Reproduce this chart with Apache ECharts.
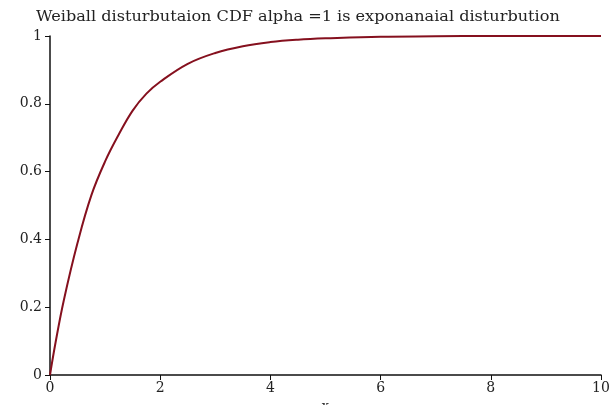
<!DOCTYPE html>
<html>
<head>
<meta charset="utf-8">
<script src="https://cdn.jsdelivr.net/npm/echarts@6/dist/echarts.min.js"></script>
<style>
  html, body { margin: 0; padding: 0; background: #fff; }
  #chart { width: 611px; height: 405px; }
</style>
</head>
<body>
<div id="chart"></div>
<script>
// Weibull CDF with shape alpha = 1 (sampled curve points)
var xValues = [0, 0.1, 0.25, 0.5, 0.75, 1, 1.25, 1.5, 1.75, 2, 2.5, 3, 3.5, 4, 4.5, 5, 6, 7, 8, 9, 10];
var cdfValues = [0, 0.095, 0.22, 0.39, 0.53, 0.63, 0.71, 0.78, 0.83, 0.865, 0.918, 0.95, 0.97, 0.982, 0.989, 0.993, 0.998, 0.999, 1, 1, 1];
var titleText = 'Weiball disturbutaion CDF alpha =1 is exponanaial disturbution';
var xName = 'x';

var serif = '"DejaVu Serif", "Liberation Serif", serif';
var chart = echarts.init(document.getElementById('chart'));
chart.setOption({
  animation: false,
  // wide, slightly stretched heading drawn as a graphic text
  graphic: [{
    type: 'text',
    x: 36,
    y: 10,
    scaleX: 1.15,
    style: {
      text: titleText,
      font: '14px ' + serif,
      fill: '#222',
      textAlign: 'left',
      textVerticalAlign: 'top'
    }
  }],
  grid: { left: 50, right: 10, top: 36, bottom: 30, containLabel: false, outerBoundsMode: 'none' },
  xAxis: {
    type: 'value',
    min: 0, max: 10, interval: 2,
    name: xName,
    nameLocation: 'middle',
    nameGap: 24,
    nameTextStyle: { fontFamily: serif, fontSize: 13, color: '#333' },
    axisLine: { show: true, onZero: true, lineStyle: { color: '#111', width: 1.5 } },
    axisTick: { show: true, length: 5, inside: false, lineStyle: { color: '#111' } },
    axisLabel: { fontFamily: serif, fontSize: 14, color: '#222', margin: 6 },
    splitLine: { show: false }
  },
  yAxis: {
    type: 'value',
    min: 0, max: 1, interval: 0.2,
    axisLine: { show: true, lineStyle: { color: '#111', width: 1.5 } },
    axisTick: { show: true, length: 5, inside: false, lineStyle: { color: '#111' } },
    axisLabel: { fontFamily: serif, fontSize: 14, color: '#222', margin: 8 },
    splitLine: { show: false }
  },
  series: [{
    type: 'line',
    data: xValues.map(function (x, i) { return [x, cdfValues[i]]; }),
    smooth: 0.4,
    showSymbol: false,
    lineStyle: { color: '#85101e', width: 2 }
  }]
});
</script>
</body>
</html>
